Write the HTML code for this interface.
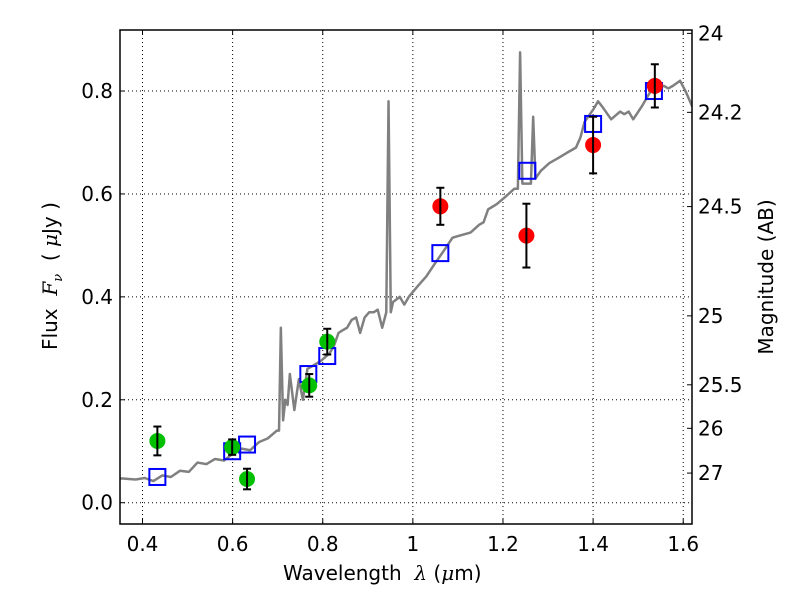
<!DOCTYPE html>
<html><head><meta charset="utf-8"><style>
body{margin:0;background:#fff;}
svg{display:block;font-family:"DejaVu Sans","Liberation Sans",sans-serif;}
</style></head><body>
<svg id="chart" width="800" height="600"></svg>
<script>
const xTicks=[0.4,0.6,0.8,1.0,1.2,1.4,1.6];
const xTickLabels=["0.4","0.6","0.8","1","1.2","1.4","1.6"];
const yTicks=[0.0,0.2,0.4,0.6,0.8];
const yTickLabels=["0.0","0.2","0.4","0.6","0.8"];
const magTicks=[24,24.2,24.5,25,25.5,26,27];
const magTickLabels=["24","24.2","24.5","25","25.5","26","27"];
const specLam=[0.35,0.356,0.385,0.405,0.424,0.444,0.463,0.483,0.503,0.522,0.542,0.561,0.581,0.600,0.620,0.639,0.659,0.678,0.698,0.703,0.707,0.712,0.717,0.722,0.727,0.737,0.747,0.756,0.766,0.776,0.795,0.815,0.825,0.835,0.844,0.854,0.864,0.874,0.883,0.893,0.903,0.913,0.922,0.932,0.941,0.946,0.951,0.956,0.971,0.981,0.991,1.010,1.030,1.049,1.069,1.088,1.108,1.128,1.147,1.157,1.167,1.186,1.206,1.225,1.233,1.238,1.243,1.25,1.262,1.267,1.272,1.284,1.303,1.323,1.342,1.362,1.372,1.381,1.401,1.411,1.420,1.440,1.460,1.469,1.479,1.489,1.508,1.528,1.538,1.557,1.567,1.577,1.593,1.605,1.62];
const specFlux=[0.047,0.047,0.045,0.048,0.042,0.053,0.050,0.062,0.060,0.078,0.075,0.085,0.082,0.095,0.105,0.102,0.118,0.125,0.14,0.14,0.34,0.16,0.2,0.19,0.25,0.18,0.24,0.20,0.26,0.265,0.275,0.29,0.305,0.33,0.335,0.34,0.355,0.36,0.33,0.36,0.37,0.37,0.375,0.34,0.37,0.78,0.37,0.39,0.40,0.385,0.40,0.42,0.44,0.465,0.49,0.515,0.52,0.525,0.54,0.545,0.57,0.58,0.595,0.61,0.61,0.875,0.62,0.62,0.62,0.75,0.63,0.645,0.66,0.67,0.68,0.69,0.71,0.74,0.765,0.78,0.77,0.745,0.76,0.755,0.76,0.745,0.77,0.80,0.805,0.81,0.805,0.81,0.82,0.80,0.77];
const greenLam=[0.433,0.599,0.632,0.770,0.810];
const greenFlux=[0.120,0.108,0.046,0.228,0.313];
const greenErr=[0.028,0.015,0.02,0.022,0.025];
const redLam=[1.061,1.252,1.400,1.537];
const redFlux=[0.576,0.519,0.695,0.81];
const redErr=[0.036,0.062,0.055,0.042];
const modelLam=[0.433,0.599,0.632,0.768,0.810,1.061,1.254,1.400,1.535];
const modelFlux=[0.05,0.10,0.113,0.25,0.285,0.485,0.645,0.736,0.80];

const L=120,R=692,T=30,B=524;
const X=v=>142.5+(v-0.4)*450.6;
const Y=v=>502.7-v*514.6;
const magY=m=>Y(Math.pow(10,(23.9-m)/2.5));
const svg=document.getElementById('chart');
const NS='http://www.w3.org/2000/svg';
function mk(tag,attrs,parent){const e=document.createElementNS(NS,tag);for(const k in attrs)e.setAttribute(k,attrs[k]);(parent||svg).appendChild(e);return e;}

const defs=mk('defs',{});
const cp=mk('clipPath',{id:'plotclip'},defs);
mk('rect',{x:L,y:T,width:R-L,height:B-T},cp);

const grid=mk('g',{});


xTicks.forEach((t,i)=>{
  mk('line',{x1:X(t),x2:X(t),y1:T,y2:B,stroke:'#000','stroke-width':1,'stroke-dasharray':'1,3'},grid);
  mk('line',{x1:X(t),x2:X(t),y1:B,y2:B-5,stroke:'#000'},grid);
  mk('line',{x1:X(t),x2:X(t),y1:T,y2:T+5,stroke:'#000'},grid);
  const tx=mk('text',{x:X(t),y:B+27,'text-anchor':'middle','font-size':20});
  tx.textContent=xTickLabels[i];
  
  
});
yTicks.forEach((t,i)=>{
  mk('line',{x1:L,x2:R,y1:Y(t),y2:Y(t),stroke:'#000','stroke-width':1,'stroke-dasharray':'1,3'},grid);
  mk('line',{x1:L,x2:L+5,y1:Y(t),y2:Y(t),stroke:'#000'},grid);
  const ty=mk('text',{x:L-7,y:Y(t)+7,'text-anchor':'end','font-size':20});
  ty.textContent=yTickLabels[i];
  
  
});
magTicks.forEach((m,i)=>{
  mk('line',{x1:R,x2:R-5,y1:magY(m),y2:magY(m),stroke:'#000'});
  const tm=mk('text',{x:R+6,y:magY(m)+7,'font-size':20});
  tm.textContent=magTickLabels[i];
  
  
});

const spec=mk('polyline',{points:specLam.map((l,i)=>X(l)+','+Y(specFlux[i])).join(' '),fill:'none',stroke:'#808080','stroke-width':2.5,'stroke-linejoin':'round','clip-path':'url(#plotclip)'});



modelLam.forEach((l,i)=>{
  const s=mk('rect',{x:X(l)-8,y:Y(modelFlux[i])-8,width:16,height:16,fill:'none',stroke:'#0000ff','stroke-width':2});
  
  
});
function pts(lams,fl,er,color,name){
  lams.forEach((l,i)=>{
    const g=mk('g',{});
    
    
    mk('circle',{cx:X(l),cy:Y(fl[i]),r:8,fill:color},g);
    const y1=Y(fl[i]+er[i]),y2=Y(fl[i]-er[i]);
    mk('line',{x1:X(l),x2:X(l),y1:y1,y2:y2,stroke:'#000','stroke-width':2},g);
    mk('line',{x1:X(l)-4,x2:X(l)+4,y1:y1,y2:y1,stroke:'#000','stroke-width':2},g);
    mk('line',{x1:X(l)-4,x2:X(l)+4,y1:y2,y2:y2,stroke:'#000','stroke-width':2},g);
  });
}
pts(greenLam,greenFlux,greenErr,'#00c000','optical-point');
pts(redLam,redFlux,redErr,'#ff0000','nir-point');

const frame=mk('rect',{x:L,y:T,width:R-L,height:B-T,fill:'none',stroke:'#000','stroke-width':1.5});


</script>
<div style="position:absolute;left:0;top:0;width:800px;height:600px;pointer-events:none;font-family:'DejaVu Sans','Liberation Sans',sans-serif;">
<div style="position:absolute;left:283px;top:561px;font-size:20px;white-space:nowrap;">Wavelength&nbsp; <i style="font-family:'DejaVu Serif',serif">λ</i> (<i style="font-family:'DejaVu Serif',serif">μ</i>m)</div>
<div style="position:absolute;left:52px;top:276px;font-size:20px;transform:translate(-50%,-50%) rotate(-90deg);white-space:nowrap;">Flux&nbsp; <i style="font-family:'DejaVu Serif',serif">F<sub style="font-size:13px">ν</sub></i>&nbsp; ( <i style="font-family:'DejaVu Serif',serif">μ</i>Jy )</div>
<div style="position:absolute;left:766px;top:277px;font-size:20px;transform:translate(-50%,-50%) rotate(-90deg);white-space:nowrap;">Magnitude (AB)</div>
</div>
</body></html>
